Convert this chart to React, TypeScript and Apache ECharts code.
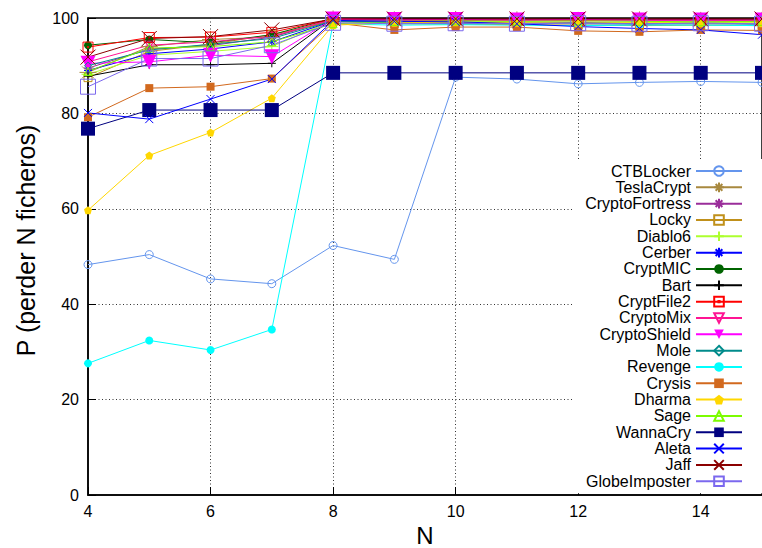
import React, { useEffect, useRef } from "react";
import * as echarts from "echarts";

// N = number of lost files
const nValues = [4, 5, 6, 7, 8, 9, 10, 11, 12, 13, 14, 15];

// P (%) per ransomware family
const ctbLocker = [48.3, 50.4, 45.3, 44.3, 52.3, 49.4, 87.6, 87.2, 86.2, 86.5, 86.7, 86.5];
const teslaCrypt = [88.6, 94.0, 95.5, 96.0, 99.8, 99.6, 99.7, 99.6, 99.5, 99.6, 99.5, 99.5];
const cryptoFortress = [89.5, 93.5, 94.2, 96.0, 99.6, 99.5, 99.5, 99.4, 99.5, 99.4, 99.4, 99.3];
const locky = [87.5, 93.0, 94.5, 96.5, 99.3, 98.8, 98.7, 98.6, 98.5, 98.4, 98.5, 98.4];
const diablo6 = [88.2, 92.2, 93.0, 94.0, 99.5, 99.3, 99.2, 99.2, 99.1, 99.0, 99.1, 99.0];
const cerber = [89.0, 92.5, 93.5, 95.0, 99.4, 99.2, 99.0, 98.9, 99.0, 98.8, 98.9, 98.8];
const cryptMIC = [94.3, 95.5, 94.8, 96.5, 99.9, 99.8, 99.8, 99.7, 99.8, 99.7, 99.7, 99.7];
const bart = [87.8, 90.2, 90.2, 90.5, 99.9, 99.9, 99.9, 99.8, 99.9, 99.8, 99.9, 99.8];
const cryptFile2 = [93.9, 95.9, 96.0, 97.0, 99.8, 99.7, 99.6, 99.6, 99.5, 99.5, 99.6, 99.5];
const cryptoMix = [90.8, 94.3, 95.0, 96.2, 99.7, 99.5, 99.6, 99.5, 99.4, 99.5, 99.4, 99.4];
const cryptoShield = [90.5, 90.8, 92.2, 91.9, 99.8, 99.7, 99.7, 99.6, 99.7, 99.6, 99.6, 99.6];
const mole = [90.0, 93.3, 94.5, 95.7, 99.4, 99.0, 98.9, 98.9, 98.8, 98.7, 98.8, 98.7];
const revenge = [27.6, 32.4, 30.4, 34.7, 98.8, 98.5, 98.6, 98.5, 98.4, 98.5, 98.5, 98.4];
const crysis = [79.2, 85.3, 85.6, 87.3, 99.0, 97.5, 98.1, 98.1, 97.3, 97.1, 97.5, 97.4];
const dharma = [59.7, 71.2, 76.0, 83.2, 98.5, 99.0, 99.1, 99.0, 98.9, 99.0, 98.9, 98.9];
const sage = [88.8, 93.7, 94.0, 95.0, 98.8, 99.3, 99.4, 99.3, 99.4, 99.3, 99.2, 99.3];
const wannaCry = [76.8, 80.7, 80.7, 80.7, 88.5, 88.5, 88.5, 88.5, 88.5, 88.5, 88.5, 88.5];
const aleta = [80.1, 78.8, 83.0, 87.2, 99.5, 99.3, 99.2, 98.8, 98.2, 97.8, 97.5, 96.5];
const jaff = [91.8, 95.7, 96.1, 97.5, 99.8, 99.8, 99.8, 99.8, 99.8, 99.8, 99.8, 99.8];
const globeImposter = [85.6, 91.5, 91.5, 94.3, 99.0, 98.8, 98.9, 98.8, 98.9, 98.8, 98.9, 98.8];

const FONT = '"Liberation Sans", Arial, Helvetica, sans-serif';

// point shapes
const STAR8 = "path://M0,5L10,5M5,0L5,10M1.5,1.5L8.5,8.5M8.5,1.5L1.5,8.5";
const CROSS = "path://M0,0L10,10M10,0L0,10";
const PLUS = "path://M5,0L5,10M0,5L10,5";
const PENTAGON = "path://M5,0L10,3.6L8.1,9.5L1.9,9.5L0,3.6Z";
const BOX_DOT = "path://M0,0L10,0L10,10L0,10Z M4.4,4.4L5.6,4.4L5.6,5.6L4.4,5.6Z";

type Family = {
  name: string;
  values: number[];
  color: string;
  symbol: string;
  size: number;
  hollow?: boolean;
  rotate?: number;
};

const families: Family[] = [
  { name: "CTBLocker", values: ctbLocker, color: "#6495ed", symbol: "circle", size: 8, hollow: true },
  { name: "TeslaCrypt", values: teslaCrypt, color: "#a8893f", symbol: STAR8, size: 17, hollow: true },
  { name: "CryptoFortress", values: cryptoFortress, color: "#9a2d9a", symbol: STAR8, size: 8, hollow: true },
  { name: "Locky", values: locky, color: "#c0901a", symbol: "rect", size: 8, hollow: true },
  { name: "Diablo6", values: diablo6, color: "#adff2f", symbol: PLUS, size: 13, hollow: true },
  { name: "Cerber", values: cerber, color: "#0000ff", symbol: STAR8, size: 8, hollow: true },
  { name: "CryptMIC", values: cryptMIC, color: "#006400", symbol: "circle", size: 8 },
  { name: "Bart", values: bart, color: "#000000", symbol: PLUS, size: 8, hollow: true },
  { name: "CryptFile2", values: cryptFile2, color: "#ff0000", symbol: BOX_DOT, size: 10, hollow: true },
  { name: "CryptoMix", values: cryptoMix, color: "#ff1493", symbol: "triangle", size: 8, hollow: true, rotate: 180 },
  { name: "CryptoShield", values: cryptoShield, color: "#ff00ff", symbol: "triangle", size: 15, rotate: 180 },
  { name: "Mole", values: mole, color: "#008b8b", symbol: "diamond", size: 7, hollow: true },
  { name: "Revenge", values: revenge, color: "#00ffff", symbol: "circle", size: 8 },
  { name: "Crysis", values: crysis, color: "#d2691e", symbol: "rect", size: 8 },
  { name: "Dharma", values: dharma, color: "#ffd700", symbol: PENTAGON, size: 8 },
  { name: "Sage", values: sage, color: "#7cfc00", symbol: "triangle", size: 8, hollow: true },
  { name: "WannaCry", values: wannaCry, color: "#000080", symbol: "rect", size: 14 },
  { name: "Aleta", values: aleta, color: "#0000ff", symbol: CROSS, size: 8, hollow: true },
  { name: "Jaff", values: jaff, color: "#8b0000", symbol: CROSS, size: 15, hollow: true },
  { name: "GlobeImposter", values: globeImposter, color: "#7b68ee", symbol: "rect", size: 15, hollow: true },
];

export default function App() {
  const ref = useRef<HTMLDivElement>(null);

  useEffect(() => {
    if (!ref.current) return;
    const chart = echarts.init(ref.current, undefined, { renderer: "svg" });

    const series = families.map((f) => ({
      type: "line",
      name: f.name,
      data: nValues.map((n, i) => [n, f.values[i]]),
      symbol: f.symbol,
      symbolSize: f.size,
      symbolRotate: f.rotate ?? 0,
      showAllSymbol: true,
      clip: false,
      color: f.color,
      lineStyle: { color: f.color, width: 1 },
      itemStyle: f.hollow
        ? { color: "transparent", borderColor: f.color, borderWidth: 1 }
        : { color: f.color, borderColor: f.color, borderWidth: 0 },
      emphasis: { disabled: true },
    }));

    chart.setOption({
      animation: false,
      backgroundColor: "#ffffff",
      textStyle: { fontFamily: FONT },
      grid: {
        left: 88,
        right: 0,
        top: 18,
        bottom: 53,
        outerBoundsMode: "none",
        containLabel: false,
        show: true,
        borderColor: "#000",
        borderWidth: 1.5,
        backgroundColor: "transparent",
      },
      legend: {
        orient: "vertical",
        align: "right",
        right: 0,
        top: 159,
        padding: [4, 19, 4, 13],
        backgroundColor: "#ffffff",
        itemWidth: 46,
        itemHeight: 12,
        itemGap: 0.33,
        selectedMode: false,
        textStyle: {
          fontFamily: FONT,
          fontSize: 16,
          lineHeight: 16,
          color: "#000",
        },
      },
      xAxis: {
        type: "value",
        min: 4,
        max: 15,
        interval: 2,
        name: "N",
        nameLocation: "middle",
        nameGap: 20,
        nameTextStyle: { fontFamily: FONT, fontSize: 24, color: "#000" },
        axisLine: { show: true, onZero: false, lineStyle: { color: "#000", width: 1.5 } },
        axisTick: { show: true, inside: true, length: 8, lineStyle: { color: "#000" } },
        axisLabel: {
          fontFamily: FONT,
          fontSize: 16,
          color: "#000",
          margin: 8,
          showMaxLabel: false,
        },
        splitLine: {
          show: true,
          showMinLine: false,
          showMaxLine: false,
          lineStyle: { color: "#333", type: [1, 2.5], width: 1 },
        },
      },
      yAxis: {
        type: "value",
        min: 0,
        max: 100,
        interval: 20,
        name: "P (perder N ficheros)",
        nameLocation: "middle",
        nameGap: 50,
        nameTextStyle: {
          fontFamily: FONT,
          fontSize: 25,
          color: "#000",
          padding: [0, 0, 0, 32],
        },
        axisLine: { show: true, lineStyle: { color: "#000", width: 1.5 } },
        axisTick: { show: true, inside: true, length: 8, lineStyle: { color: "#000" } },
        axisLabel: { fontFamily: FONT, fontSize: 16, color: "#000", margin: 9 },
        splitLine: {
          show: true,
          showMinLine: false,
          showMaxLine: false,
          lineStyle: { color: "#333", type: [1, 2.5], width: 1 },
        },
      },
      series,
    });

    return () => chart.dispose();
  }, []);

  return (
    <div
      ref={ref}
      style={{ position: "fixed", left: 0, top: 0, width: 762, height: 548 }}
    />
  );
}
